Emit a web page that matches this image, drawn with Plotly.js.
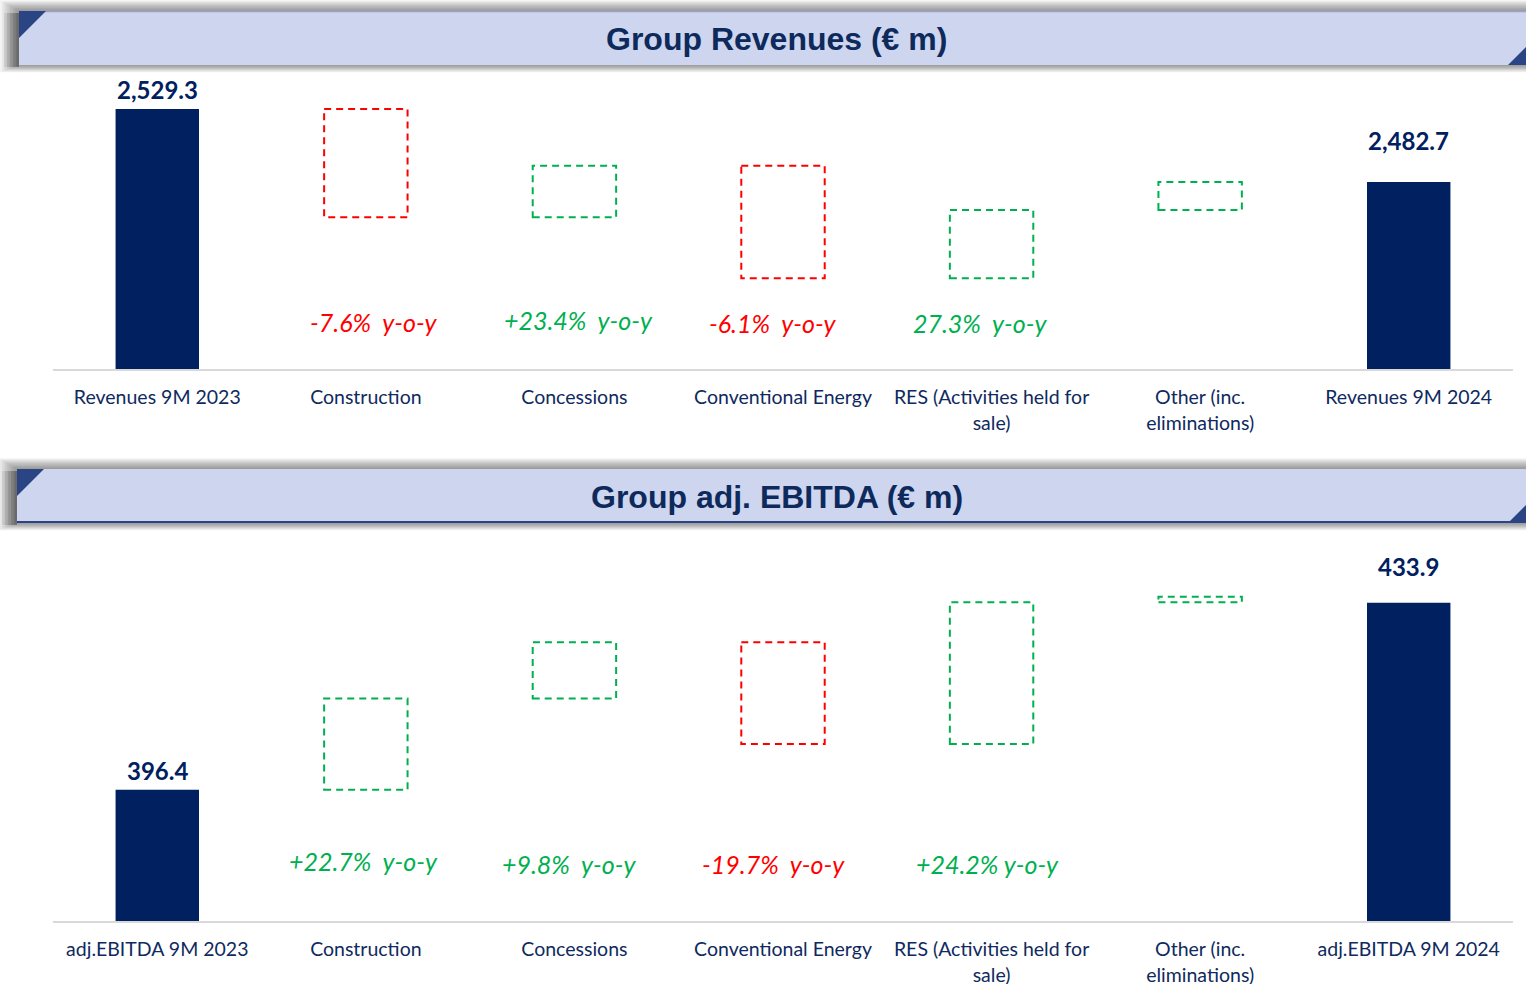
<!DOCTYPE html>
<html>
<head>
<meta charset="utf-8">
<script src="https://cdn.plot.ly/plotly-3.0.1.min.js"></script>
<style>
  html, body { margin: 0; padding: 0; background: #fff; overflow: hidden; }
  #chart { width: 1526px; height: 984px; }
</style>
</head>
<body>
<div id="chart"></div>
<script>
// ---- data ----
const revLabels = ["Revenues 9M 2023", "Construction", "Concessions", "Conventional Energy",
  "RES (Activities held for<br>sale)", "Other (inc.<br>eliminations)", "Revenues 9M 2024"];
const revStart = 2529.3;
const revEnd = 2482.7;
const revDeltas = [-69.1, 32.9, -71.9, 43.6, 17.9];
const revYoy = ["-7.6%  y-o-y", "+23.4%  y-o-y", "-6.1%  y-o-y", "27.3%  y-o-y"];

const ebitdaLabels = ["adj.EBITDA 9M 2023", "Construction", "Concessions", "Conventional Energy",
  "RES (Activities held for<br>sale)", "Other (inc.<br>eliminations)", "adj.EBITDA 9M 2024"];
const ebitdaStart = 396.4;
const ebitdaEnd = 433.9;
const ebitdaDeltas = [18.3, 11.3, -20.4, 28.4, 1.1];
const ebitdaYoy = ["+22.7%  y-o-y", "+9.8%  y-o-y", "-19.7%  y-o-y", "+24.2% y-o-y"];

// ---- styling ----
const W = 1526, H = 984;
const NAVY = "#002060";
const TXT = "#0f2a5e";
const RED = "#ff0000";
const GREEN = "#00b050";
const px = x => x / W;
const py = y => 1 - y / H;

function fmt(v) {
  return v.toLocaleString("en-US", {minimumFractionDigits: 1, maximumFractionDigits: 1});
}

let shapes = [];
let annotations = [];

// dashed step boxes for each delta, stacked from the start value
function stepBoxes(start, deltas, xr, yr) {
  let level = start;
  deltas.forEach((d, i) => {
    const next = level + d;
    shapes.push({
      type: "rect", xref: xr, yref: yr,
      x0: i + 1 - 0.2, x1: i + 1 + 0.2,
      y0: level, y1: next,
      line: {color: d < 0 ? RED : GREEN, width: 2, dash: "7px,5px"},
      fillcolor: "rgba(0,0,0,0)"
    });
    level = next;
  });
}
stepBoxes(revStart, revDeltas, "x", "y");
stepBoxes(ebitdaStart, ebitdaDeltas, "x2", "y2");

// value labels on the total bars
function totalLabels(vals, xr, yr, shifts) {
  vals.forEach((v, k) => {
    annotations.push({
      x: k === 0 ? 0 : 6, y: v, xref: xr, yref: yr,
      text: "<b>" + fmt(v) + "</b>", showarrow: false,
      yanchor: "bottom", yshift: shifts[k],
      font: {family: "Lato, 'Open Sans', sans-serif", size: 24, color: NAVY}
    });
  });
}
totalLabels([revStart, revEnd], "x", "y", [3, 25]);
totalLabels([ebitdaStart, ebitdaEnd], "x2", "y2", [3, 20]);

// y-o-y notes
const revYoyPos = [[374, 322], [578, 320], [773, 323], [980, 323]];
const ebitdaYoyPos = [[363, 861], [569, 864], [773, 864], [987, 864]];
function yoyNotes(texts, pos) {
  texts.forEach((t, i) => {
    annotations.push({
      xref: "paper", yref: "paper", x: px(pos[i][0]), y: py(pos[i][1]),
      text: "<i>" + t.replace(/ /g, "&nbsp;") + "</i>", showarrow: false,
      xanchor: "center", yanchor: "middle",
      font: {family: "Lato, 'Open Sans', sans-serif", size: 25,
             color: t.trim().startsWith("-") ? RED : GREEN}
    });
  });
}
yoyNotes(revYoy, revYoyPos);
yoyNotes(ebitdaYoy, ebitdaYoyPos);

// header bars
function header(top, bottom, left, text, textY, topLine, bottomLine) {
  // soft shadow, heavier on the left
  for (let s = 1; s <= 9; s++) {
    shapes.push({
      type: "rect", xref: "paper", yref: "paper", layer: "below",
      x0: px(left - s * 2.1), x1: px(W + 5),
      y0: py(bottom + s * 0.8), y1: py(top - s * 1.2),
      line: {width: 0}, fillcolor: "rgba(0,0,0,0.05)"
    });
  }
  for (let s = 1; s <= 5; s++) {
    shapes.push({
      type: "rect", xref: "paper", yref: "paper", layer: "below",
      x0: px(left - s * 3), x1: px(left),
      y0: py(bottom + 2), y1: py(top + 2),
      line: {width: 0}, fillcolor: "rgba(0,0,0,0.07)"
    });
  }
  shapes.push({
    type: "rect", xref: "paper", yref: "paper",
    x0: px(left), x1: px(W + 5), y0: py(bottom), y1: py(top),
    line: {width: 0}, fillcolor: "#cdd6ee"
  });
  if (topLine) {
    shapes.push({type: "line", xref: "paper", yref: "paper",
      x0: px(left), x1: px(W + 5), y0: py(top + 0.5), y1: py(top + 0.5),
      line: {color: "#9aa2c6", width: 1.5}});
  }
  if (bottomLine) {
    shapes.push({type: "line", xref: "paper", yref: "paper",
      x0: px(left), x1: px(W + 5), y0: py(bottom - 1), y1: py(bottom - 1),
      line: {color: "#2b4584", width: 2}});
  }
  // corner triangles
  shapes.push({type: "path", xref: "paper", yref: "paper",
    path: `M ${px(left)} ${py(top)} L ${px(left + 27)} ${py(top)} L ${px(left)} ${py(top + 27)} Z`,
    line: {width: 0}, fillcolor: "#2b4584"});
  shapes.push({type: "path", xref: "paper", yref: "paper",
    path: `M ${px(W)} ${py(bottom - 18)} L ${px(W)} ${py(bottom)} L ${px(W - 18)} ${py(bottom)} Z`,
    line: {width: 0}, fillcolor: "#2b4584"});
  annotations.push({
    xref: "paper", yref: "paper", x: px(777), y: py(textY),
    text: "<b>" + text + "</b>", showarrow: false, xanchor: "center", yanchor: "middle",
    font: {family: "'Liberation Sans', Arial, sans-serif", size: 32, color: "#0e2a5c"}
  });
}
header(11, 65, 19, "Group Revenues (€ m)", 39, true, false);
header(469, 523, 17, "Group adj. EBITDA (€ m)", 497, false, true);

// ---- traces ----
const revBars = {
  type: "bar", x: [0, 6], y: [revStart, revEnd], width: 0.4,
  marker: {color: NAVY}, xaxis: "x", yaxis: "y", hoverinfo: "skip"
};
const ebitdaBars = {
  type: "bar", x: [0, 6], y: [ebitdaStart, ebitdaEnd], width: 0.4,
  marker: {color: NAVY}, xaxis: "x2", yaxis: "y2", hoverinfo: "skip"
};

function xAxis(labels) {
  return {
    domain: [px(53), px(1513)], range: [-0.5, 6.5],
    tickmode: "array", tickvals: [0, 1, 2, 3, 4, 5, 6], ticktext: labels,
    showgrid: false, zeroline: false, showline: true,
    linecolor: "#d9d9d9", linewidth: 2, ticks: "",
    tickfont: {family: "Lato, 'Open Sans', sans-serif", size: 19.5, color: TXT},
    ticklabelstandoff: 10, fixedrange: true
  };
}

// axes don't start at zero: bottom of plot sits at the values below
const layout = {
  width: W, height: H,
  margin: {l: 0, r: 0, t: 0, b: 0},
  paper_bgcolor: "#ffffff", plot_bgcolor: "rgba(0,0,0,0)",
  showlegend: false,
  xaxis: Object.assign(xAxis(revLabels), {anchor: "y"}),
  yaxis: {domain: [py(369), py(75)], range: [2363.3, 2551.0], visible: false, fixedrange: true},
  xaxis2: Object.assign(xAxis(ebitdaLabels), {anchor: "y2"}),
  yaxis2: {domain: [py(921), py(540)], range: [370.1, 446.5], visible: false, fixedrange: true},
  shapes: shapes,
  annotations: annotations
};

Plotly.newPlot("chart", [revBars, ebitdaBars], layout, {displayModeBar: false, staticPlot: true});
</script>
</body>
</html>
